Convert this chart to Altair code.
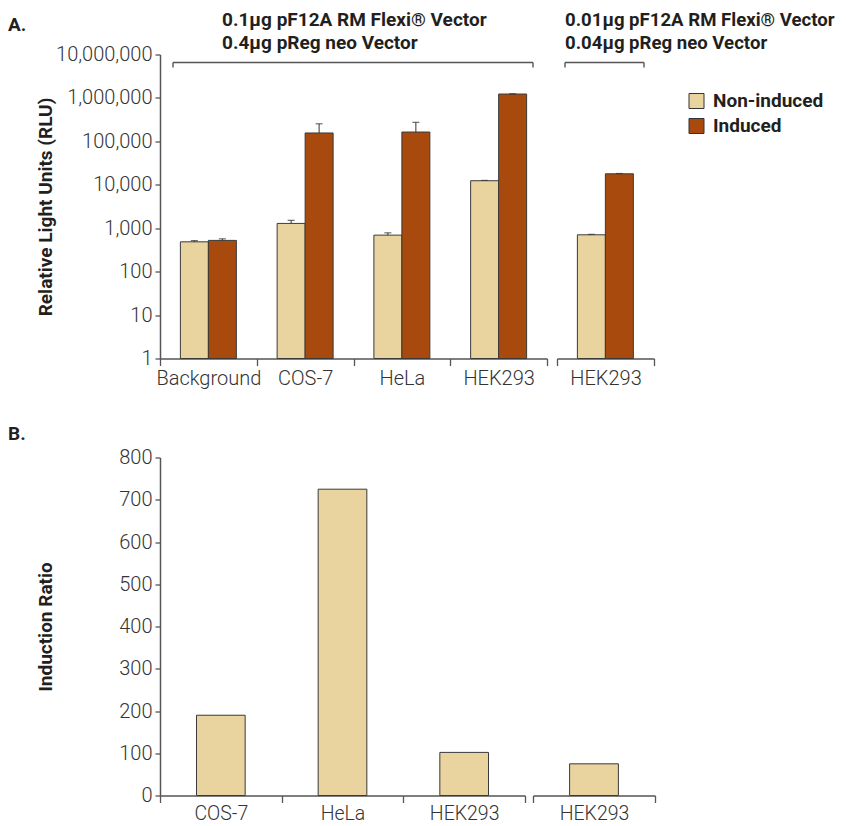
import altair as alt
import pandas as pd

# ---------------- data ----------------
conditions = ["Non-induced", "Induced"]

cells_a_left = ["Background", "COS-7", "HeLa", "HEK293"]
noninduced_left = [486, 1290, 693, 12400]
induced_left = [524, 156000, 164000, 1230000]
noninduced_err_left = [520, 1510, 783, 12600]
induced_err_left = [570, 254000, 274000, 1250000]

cells_a_right = ["HEK293"]
noninduced_right = [705]
induced_right = [17900]
noninduced_err_right = [722]
induced_err_right = [18200]

cells_b_left = ["COS-7", "HeLa", "HEK293"]
ratio_left = [190, 725, 102]
cells_b_right = ["HEK293"]
ratio_right = [75]

rlu_ticks = [1, 10, 100, 1000, 10000, 100000, 1000000, 10000000]
ratio_ticks = [0, 100, 200, 300, 400, 500, 600, 700, 800]

header_left = ["0.1µg pF12A RM Flexi® Vector", "0.4µg pReg neo Vector"]
header_right = ["0.01µg pF12A RM Flexi® Vector", "0.04µg pReg neo Vector"]

# ---------------- style ----------------
FONT_B = "Roboto, sans-serif"
FONT_L = "Roboto, sans-serif"
C_NI = "#E9D4A0"
C_I = "#A84A0E"
DARK = "#231f20"
AXC = "#555555"

A_H = 304
B_H = 338

one = pd.DataFrame({"k": [0]})


def rlu_df(cells, ni, ind, ni_err, ind_err):
    rows = []
    for i, c in enumerate(cells):
        rows.append({"cell": c, "condition": "Non-induced", "rlu": ni[i], "err": ni_err[i]})
        rows.append({"cell": c, "condition": "Induced", "rlu": ind[i], "err": ind_err[i]})
    return pd.DataFrame(rows)


def txt(s, x, y, size=19):
    return alt.Chart(one).mark_text(
        text=s, font=FONT_B, fontWeight="bold", fontSize=size,
        align="left", baseline="middle", color=DARK
    ).encode(x=alt.value(x), y=alt.value(y))


def bracket(x1, x2, y, drop):
    h = alt.Chart(one).mark_rule(color=AXC, strokeWidth=1.4).encode(
        x=alt.value(x1), x2=alt.value(x2), y=alt.value(y))
    l = alt.Chart(one).mark_rule(color=AXC, strokeWidth=1.4).encode(
        x=alt.value(x1), y=alt.value(y), y2=alt.value(y + drop))
    r = alt.Chart(one).mark_rule(color=AXC, strokeWidth=1.4).encode(
        x=alt.value(x2), y=alt.value(y), y2=alt.value(y + drop))
    return [h, l, r]


def x_axis(size=20, pad=3):
    return alt.Axis(
        title=None, tickBand="extent", labelAngle=0, labelOverlap=False,
        labelFont=FONT_L, labelFontSize=size, labelFontWeight=300, labelColor="#333",
        domainColor=AXC, domainWidth=1.5, tickColor=AXC, tickWidth=1.3, tickSize=7,
        labelPadding=pad, grid=False,
    )


def y_axis(title, values, fmt, h):
    return alt.Axis(
        title=title, values=values, format=fmt, labelOverlap=False,
        labelFont=FONT_L, labelFontSize=20, labelFontWeight=300, labelColor="#333",
        domainColor=AXC, domainWidth=1.5, tickColor=AXC, tickWidth=1.3, tickSize=5,
        labelPadding=3, grid=False,
        titleFont=FONT_B, titleFontWeight="bold", titleFontSize=19, titleColor=DARK,
        titleX=-115, titleY=h / 2, titleAngle=-90, titleAlign="center", titleBaseline="middle",
    )


legend = alt.Legend(
    title=None, orient="none", legendX=527, legendY=37, padding=0,
    symbolType="square", symbolSize=225, symbolStrokeColor="#333", symbolStrokeWidth=1,
    symbolOpacity=1, labelFont=FONT_B, labelFontWeight="bold", labelFontSize=19,
    labelColor=DARK, labelOffset=7, rowPadding=5,
)


def panel_a(df, cells, width, header, hx, hsize, bx1, bx2, with_axis, letter):
    xenc = alt.X("cell:N", sort=cells,
                 scale=alt.Scale(domain=cells, paddingInner=0, paddingOuter=0),
                 axis=x_axis())
    xoff = alt.XOffset("condition:N", sort=conditions,
                       scale=alt.Scale(domain=conditions, paddingInner=0, paddingOuter=0.7277))
    yscale = alt.Scale(type="log", domain=[1, 10000000])
    yax = y_axis("Relative Light Units (RLU)", rlu_ticks, ",.0f", A_H) if with_axis else None
    base = alt.Chart(df)
    bars = base.mark_bar(stroke="#3a3a3a", strokeWidth=1, opacity=1).encode(
        x=xenc, xOffset=xoff,
        y=alt.Y("rlu:Q", scale=yscale, stack=None, axis=yax),
        color=alt.Color("condition:N", sort=conditions,
                        scale=alt.Scale(domain=conditions, range=[C_NI, C_I]),
                        legend=legend),
    )
    err = base.mark_rule(color="#333", strokeWidth=1).encode(
        x=xenc, xOffset=xoff, y=alt.Y("rlu:Q", scale=yscale), y2="err:Q")
    cap = base.mark_tick(color="#333", thickness=1.2, size=7).encode(
        x=xenc, xOffset=xoff, y=alt.Y("err:Q", scale=yscale))
    layers = [bars, err, cap,
              txt(header[0], hx, -35, hsize), txt(header[1], hx, -12, hsize)]
    layers += bracket(bx1, bx2, 8, 5)
    if letter:
        layers.append(txt(letter, -152, -30, 19))
    return alt.layer(*layers).properties(width=width, height=A_H)


def panel_b(cells, vals, width, with_axis, letter):
    df = pd.DataFrame({"cell": cells, "ratio": vals})
    xenc = alt.X("cell:N", sort=cells,
                 scale=alt.Scale(domain=cells, paddingInner=0, paddingOuter=0),
                 axis=x_axis(19.5, 2))
    yax = y_axis("Induction Ratio", ratio_ticks, "d", B_H) if with_axis else None
    bars = alt.Chart(df).mark_bar(
        color=C_NI, stroke="#3a3a3a", strokeWidth=1, width=alt.RelativeBandSize(0.4)
    ).encode(
        x=xenc,
        y=alt.Y("ratio:Q", scale=alt.Scale(domain=[0, 800]), axis=yax),
    )
    layers = [bars]
    if letter:
        layers.append(txt(letter, -152, -24, 19))
    return alt.layer(*layers).properties(width=width, height=B_H)


a_left = panel_a(rlu_df(cells_a_left, noninduced_left, induced_left, noninduced_err_left, induced_err_left),
                 cells_a_left, 387, header_left, 62, 19, 13, 373, True, "A.")
a_right = panel_a(rlu_df(cells_a_right, noninduced_right, induced_right, noninduced_err_right, induced_err_right),
                  cells_a_right, 97, header_right, 8, 18.6, 8, 87, False, None)

b_left = panel_b(cells_b_left, ratio_left, 365, True, "B.")
b_right = panel_b(cells_b_right, ratio_right, 122, False, None)

row_a = alt.hconcat(a_left, a_right, spacing=8).resolve_scale(x="independent", y="independent", color="shared")
row_b = alt.hconcat(b_left, b_right, spacing=6).resolve_scale(x="independent", y="independent")

chart = alt.vconcat(row_a, row_b, spacing=36).resolve_scale(
    x="independent", y="independent", color="shared"
).properties(
    padding={"left": 0, "top": 2.5, "right": 0, "bottom": 0}
).configure_view(stroke=None)

chart.save("out.html", embed_options={"renderer": "svg", "actions": False})
